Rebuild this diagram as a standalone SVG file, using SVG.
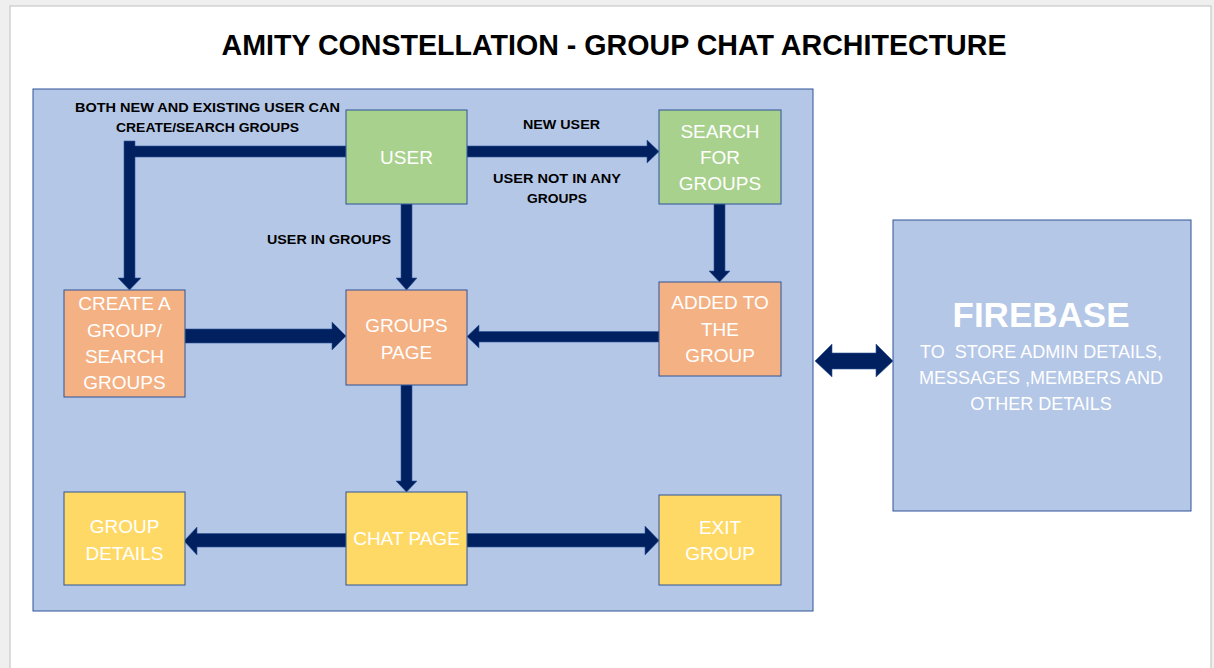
<svg xmlns="http://www.w3.org/2000/svg" width="1214" height="668" viewBox="0 0 1214 668">
<style>
.box{stroke:#2f5597;stroke-width:1}
.green{fill:#a9d18e}
.orange{fill:#f4b183}
.yellow{fill:#ffd966}
.ntext{font-family:"Liberation Sans",Arial,sans-serif;font-size:19px;fill:#ffffff;text-anchor:middle}
.lbl{font-family:"Liberation Sans",Arial,sans-serif;font-size:13.5px;font-weight:bold;fill:#000000;text-anchor:middle}
.arrow{fill:#002060;stroke:#2f5597;stroke-width:0.6}
</style>
<rect x="0" y="0" width="1214" height="668" fill="#efefef"/>
<rect x="10" y="6" width="1201" height="670" fill="#ffffff" stroke="#c8c8c8" stroke-width="1.2"/>
<text x="614" y="55" font-family="Liberation Sans,Arial,sans-serif" font-size="29" font-weight="bold" text-anchor="middle" textLength="785" lengthAdjust="spacingAndGlyphs" fill="#000">AMITY CONSTELLATION - GROUP CHAT ARCHITECTURE</text>
<rect id="panel" x="33" y="89" width="780" height="522" fill="#b4c7e7" stroke="#2f5597" stroke-width="1"/>

<g id="connectors">
<path class="arrow" d="M346,146 H135 V141 H124 V278 H118 L129.5,290 L141,278 H135 V157 H346 Z"/>
<path class="arrow" d="M467,146 H647 V140 L659,151.5 L647,163 V157 H467 Z"/>
<path class="arrow" d="M401,204 V278 H396 L406.5,290 L417,278 H412 V204 Z"/>
<path class="arrow" d="M714,204 V271 H709 L719.5,282 L730,271 H725 V204 Z"/>
<path class="arrow" d="M659,331.5 H479 V325 L467,336.5 L479,348 V342 H659 Z"/>
<path class="arrow" d="M185,329 H332 V322 L346,336 L332,350 V343 H185 Z"/>
<path class="arrow" d="M401,385 V481 H396 L406.5,492 L417,481 H412 V385 Z"/>
<path class="arrow" d="M346,533.5 H197 V527 L184,541 L197,555 V547 H346 Z"/>
<path class="arrow" d="M467,533.5 H645 V526 L659,540.5 L645,555 V547 H467 Z"/>
<path class="arrow" d="M815,361 L832,344 V353 H876 V344 L893,361 L876,377 V369 H832 V377 Z"/>
<text class="lbl" x="207.5" y="112" textLength="265" lengthAdjust="spacingAndGlyphs">BOTH NEW AND EXISTING USER CAN</text>
<text class="lbl" x="207.5" y="132" textLength="183" lengthAdjust="spacingAndGlyphs">CREATE/SEARCH GROUPS</text>
<text class="lbl" x="329" y="244" textLength="124" lengthAdjust="spacingAndGlyphs">USER IN GROUPS</text>
<text class="lbl" x="561.5" y="129" textLength="77" lengthAdjust="spacingAndGlyphs">NEW USER</text>
<text class="lbl" x="557" y="183" textLength="128" lengthAdjust="spacingAndGlyphs">USER NOT IN ANY</text>
<text class="lbl" x="557" y="203" textLength="60" lengthAdjust="spacingAndGlyphs">GROUPS</text>
</g>

<g id="user">
<rect class="box green" x="346" y="110" width="121" height="94"/>
<text class="ntext" x="406.5" y="164">USER</text>
</g>
<g id="search">
<rect class="box green" x="659" y="110" width="122" height="94"/>
<text class="ntext" x="720" y="138">SEARCH</text>
<text class="ntext" x="720" y="164">FOR</text>
<text class="ntext" x="720" y="190">GROUPS</text>
</g>
<g id="create">
<rect class="box orange" x="64" y="290" width="121" height="107"/>
<text class="ntext" x="124.5" y="310">CREATE A</text>
<text class="ntext" x="124.5" y="337">GROUP/</text>
<text class="ntext" x="124.5" y="363">SEARCH</text>
<text class="ntext" x="124.5" y="389">GROUPS</text>
</g>
<g id="groupspage">
<rect class="box orange" x="346" y="290" width="121" height="95"/>
<text class="ntext" x="406.5" y="332">GROUPS</text>
<text class="ntext" x="406.5" y="359">PAGE</text>
</g>
<g id="added">
<rect class="box orange" x="659" y="282" width="122" height="94"/>
<text class="ntext" x="720" y="309">ADDED TO</text>
<text class="ntext" x="720" y="336">THE</text>
<text class="ntext" x="720" y="362">GROUP</text>
</g>
<g id="details">
<rect class="box yellow" x="64" y="492" width="121" height="93"/>
<text class="ntext" x="124.5" y="533">GROUP</text>
<text class="ntext" x="124.5" y="560">DETAILS</text>
</g>
<g id="chat">
<rect class="box yellow" x="346" y="492" width="121" height="93"/>
<text class="ntext" x="406.5" y="545">CHAT PAGE</text>
</g>
<g id="exit">
<rect class="box yellow" x="659" y="495" width="122" height="90"/>
<text class="ntext" x="720" y="534">EXIT</text>
<text class="ntext" x="720" y="560">GROUP</text>
</g>
<g id="firebase">
<rect x="893" y="220" width="298" height="291" fill="#b4c7e7" stroke="#2f5597" stroke-width="1"/>
<text x="1041" y="327" font-family="Liberation Sans,Arial,sans-serif" font-size="35" font-weight="bold" fill="#fff" text-anchor="middle">FIREBASE</text>
<text class="ntext" x="1041" y="358" style="font-size:18px;white-space:pre">TO  STORE ADMIN DETAILS,</text>
<text class="ntext" x="1041" y="384" style="font-size:18px">MESSAGES ,MEMBERS AND</text>
<text class="ntext" x="1041" y="410" style="font-size:18px">OTHER DETAILS</text>
</g>
</svg>
